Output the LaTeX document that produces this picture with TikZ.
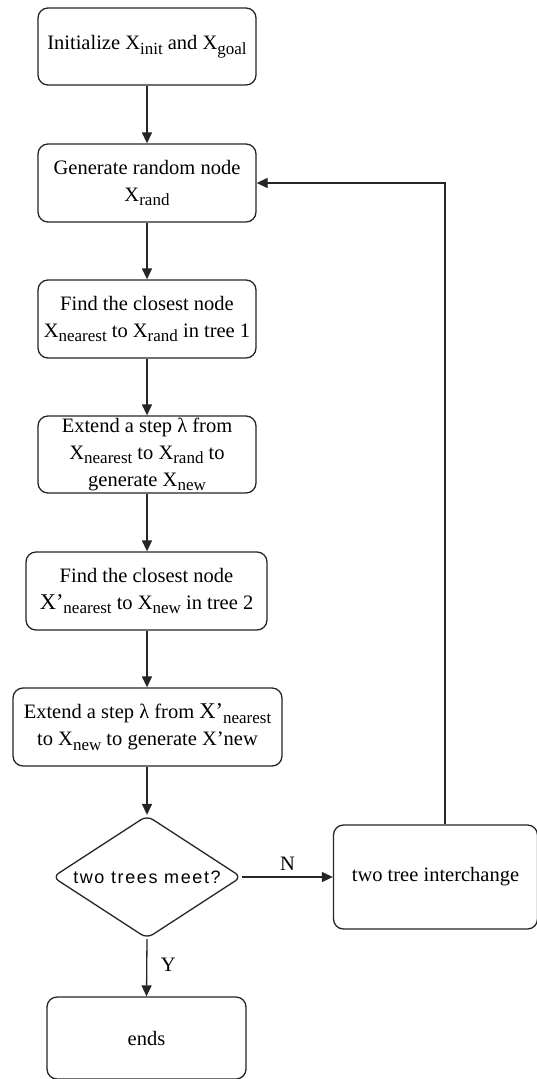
\documentclass[tikz,border=0pt]{standalone}
\usepackage{fontspec}
\setmainfont{Liberation Serif}
\newfontfamily\dsans[LetterSpace=9]{Liberation Sans}
\usetikzlibrary{shapes.geometric,arrows.meta}
\newcommand{\lowsub}[1]{\raisebox{-4.5pt}{\fontsize{17}{17}\selectfont #1}}
\newcommand{\bigX}{{\fontsize{22.5}{27}\selectfont X’}}
\begin{document}
\begin{tikzpicture}[x=1pt,y=-1pt,
  box/.style={draw=black!85, rounded corners=10pt, line width=1.3pt, align=center,
    font=\fontsize{20.5}{27}\selectfont, inner sep=1pt},
  arr/.style={draw=black!85, line width=1.3pt, -{Triangle[length=11pt,width=10pt]}},
  lbl/.style={font=\fontsize{20.5}{24}\selectfont}]
\useasboundingbox (0,0) rectangle (537,1079);
\fill[white] (0,0) rectangle (537,1079);
\node[box, minimum width=218pt, minimum height=77pt] (n1) at (147,46.5)
  {Initialize X\lowsub{init} and X\lowsub{goal}};
\node[box, minimum width=218pt, minimum height=78pt] (n2) at (147,183)
  {Generate random node\\X\lowsub{rand}};
\node[box, minimum width=218pt, minimum height=78pt] (n3) at (147,319)
  {Find the closest node\\X\lowsub{nearest} to X\lowsub{rand} in tree 1};
\node[box, minimum width=218pt, minimum height=77pt] (n4) at (147,454.5)
  {Extend a step λ from\\X\lowsub{nearest} to X\lowsub{rand} to\\generate X\lowsub{new}};
\node[box, minimum width=241pt, minimum height=78pt] (n5) at (146.5,591)
  {Find the closest node\\\bigX\lowsub{nearest} to X\lowsub{new} in tree 2};
\node[box, minimum width=269pt, minimum height=78pt] (n6) at (147.5,727)
  {Extend a step λ from \bigX\lowsub{nearest}\\to X\lowsub{new} to generate X{\char"0027}new};
\node[draw=black!85, line width=1.3pt, diamond, aspect=1.54, rounded corners=7pt,
  minimum width=189pt, minimum height=123pt, inner sep=0pt,
  font=\dsans\fontsize{18}{22}\selectfont] (d) at (147,877) {two trees meet?};
\node[box, minimum width=204pt, minimum height=104pt] (ic) at (435.5,877)
  {two tree interchange};
\node[box, minimum width=199pt, minimum height=82pt] (end) at (146.5,1038)
  {ends};
\coordinate (up) at (445,825);
\draw[arr] (n1) -- (n2);
\draw[arr] (n2) -- (n3);
\draw[arr] (n3) -- (n4);
\draw[arr] (n4) -- (n5.north -| n4.south);
\draw[arr] (n5.south -| n4.south) -- (n6.north -| n4.south);
\draw[arr] (n6.south -| n4.south) -- (d.north);
\draw[arr] (d.east) -- node[lbl, above=3pt] {N} (ic.west);
\draw[arr] (d.south) -- node[lbl, right=10pt, pos=0.45] {Y} (end.north);
\draw[arr] (up |- ic.north) |- (n2.east);
\end{tikzpicture}
\end{document}
